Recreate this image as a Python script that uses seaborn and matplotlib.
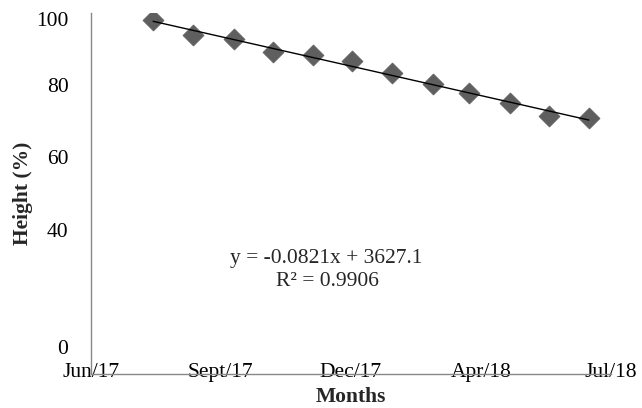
import matplotlib
matplotlib.use("Agg")
import matplotlib.pyplot as plt
import matplotlib.dates as mdates
import matplotlib.transforms as mtransforms
import numpy as np
import pandas as pd
import seaborn as sns

# ---- data ----
dates = ["2017-07-28", "2017-08-28", "2017-09-28", "2017-10-28", "2017-11-28",
         "2017-12-28", "2018-01-28", "2018-02-28", "2018-03-28", "2018-04-28",
         "2018-05-28", "2018-06-28"]
height = [98.1, 93.9, 92.7, 89.1, 88.4, 86.7, 83.5, 80.2, 77.9, 75.0, 71.5, 70.8]
x_start = "2017-06-10"
x_tick_days = [0, 100, 200, 300, 400]
x_tick_labels = ["Jun/17", "Sept/17", "Dec/17", "Apr/18", "Jul/18"]
y_ticks = [0, 20, 40, 60, 80, 100]
y_tick_labels = ["0", "", "40", "60", "80", "100"]
eq_text = "y = -0.0821x + 3627.1"
r2_text = "R\u00b2 = 0.9906"

sns.set_style("white")
plt.rcParams["font.family"] = ["Liberation Serif", "DejaVu Serif"]

df = pd.DataFrame({"x": mdates.date2num(pd.to_datetime(dates)), "y": height})
x0 = mdates.date2num(pd.Timestamp(x_start))

fig = plt.figure(figsize=(6.42, 4.08), dpi=100)
ax = fig.add_axes([90.7 / 642, 1 - 374 / 408, (611 - 90.7) / 642, (374 - 13) / 408])

sns.regplot(data=df, x="x", y="y", ax=ax, ci=None, truncate=True,
            marker="D",
            scatter_kws=dict(s=115, color="#5f5f5f", edgecolor="#5f5f5f", linewidths=0.5, alpha=1, zorder=2),
            line_kws=dict(color="black", lw=1.0, zorder=3))

ax.set_xlim(x0, x0 + 400)
ax.set_ylim(0, 100)
ax.set_xticks([x0 + d for d in x_tick_days])
ax.set_xticklabels(x_tick_labels)
ax.set_yticks(y_ticks)
ax.set_yticklabels(y_tick_labels)

fs = 15.5
ax.tick_params(axis="both", labelsize=fs, colors="#888888", labelcolor="black",
               direction="out", length=4, width=1)
ax.tick_params(axis="x", pad=-12)
ax.tick_params(axis="y", pad=12)

for side in ["top", "right"]:
    ax.spines[side].set_visible(False)
for side in ["left", "bottom"]:
    ax.spines[side].set_color("#888888")
    ax.spines[side].set_linewidth(1.0)

ax.set_xlabel("Months", fontsize=fs, fontweight="bold", labelpad=4)
ax.set_ylabel("Height (%)", fontsize=fs, fontweight="bold", labelpad=2)

ax.text(0.452, 0.321, eq_text, transform=ax.transAxes, ha="center", va="center", fontsize=fs)
ax.text(0.455, 0.255, r2_text, transform=ax.transAxes, ha="center", va="center", fontsize=fs)

# Excel-like label placement quirks
for lbl in ax.get_yticklabels():
    t = lbl.get_text()
    if t == "0":
        lbl.set_transform(lbl.get_transform() + mtransforms.ScaledTranslation(0, 27 / 100, fig.dpi_scale_trans))
    elif t == "100":
        lbl.set_transform(lbl.get_transform() + mtransforms.ScaledTranslation(0, -6 / 100, fig.dpi_scale_trans))

fig.savefig("out.png", dpi=100)
